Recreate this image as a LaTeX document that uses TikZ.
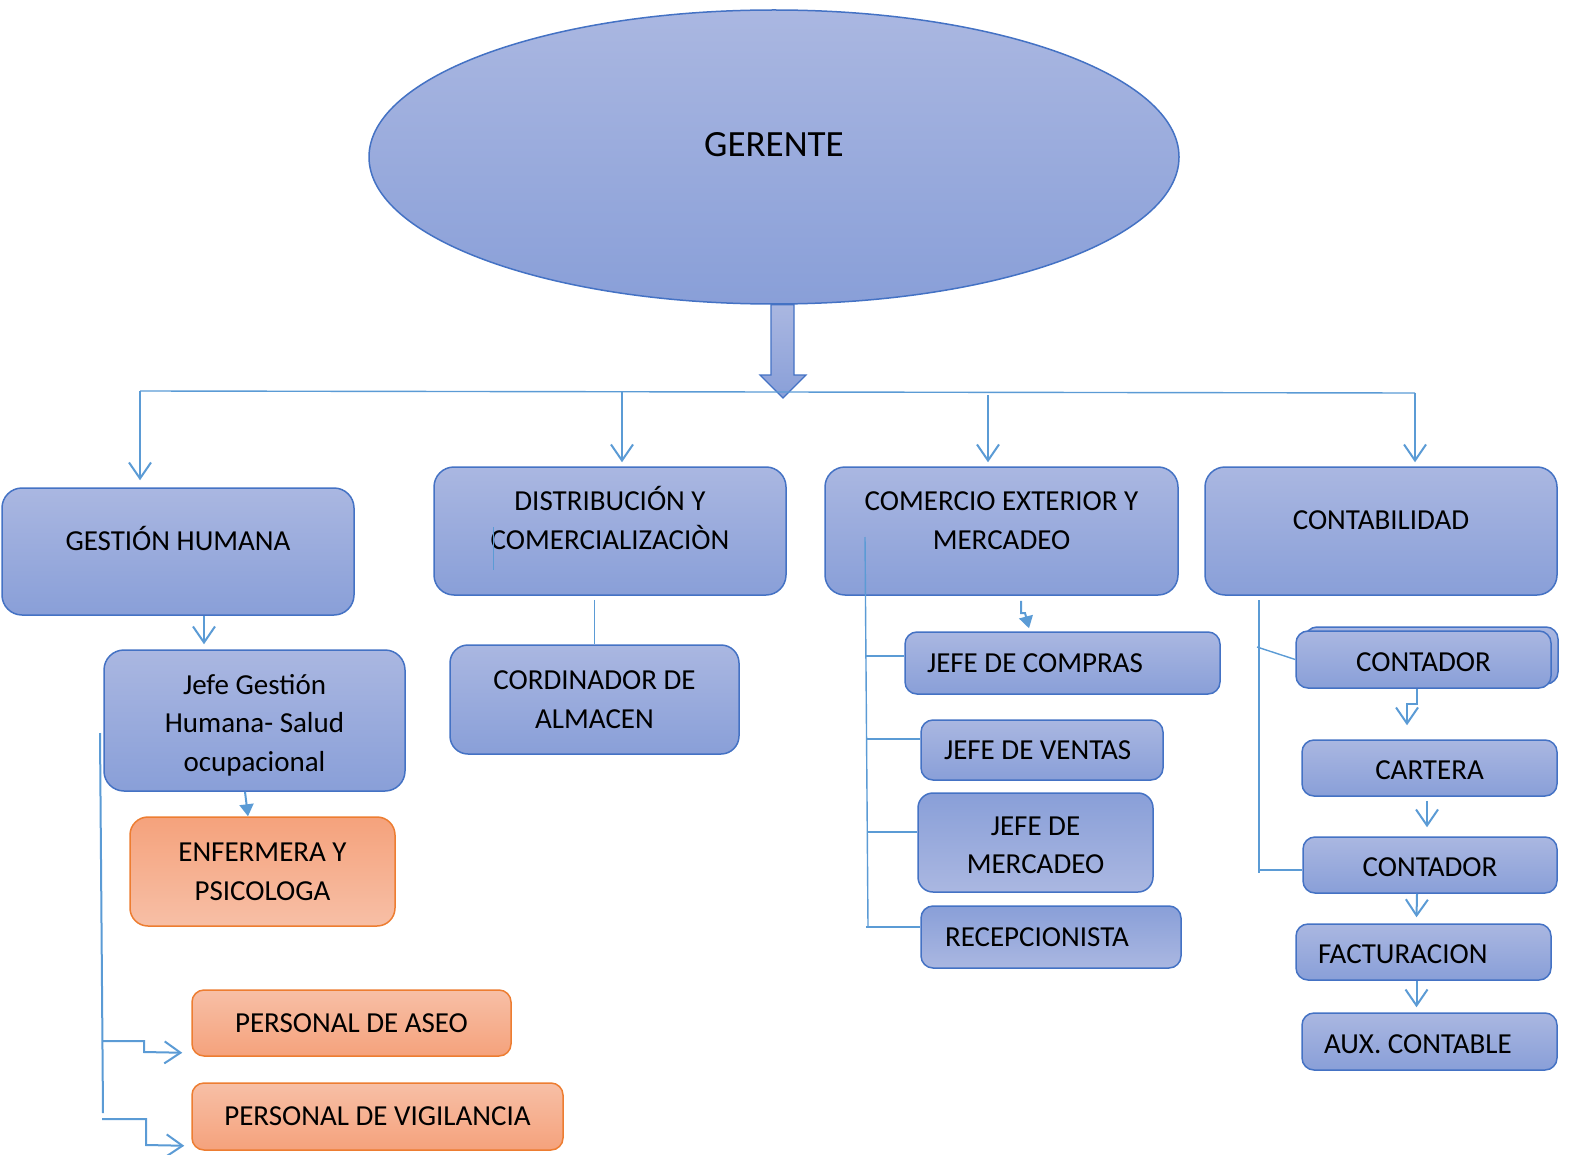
\documentclass[tikz,border=0pt]{standalone}
\usepackage{fontspec}
\setmainfont{Carlito}
\usetikzlibrary{arrows.meta,shapes.geometric}

\definecolor{boxtop}{RGB}{170,183,225}
\definecolor{boxbot}{RGB}{137,159,216}
\definecolor{boxline}{RGB}{68,114,196}
\definecolor{orgdark}{RGB}{245,162,124}
\definecolor{orglight}{RGB}{247,191,166}
\definecolor{orgline}{RGB}{237,125,49}
\definecolor{linkc}{RGB}{91,155,213}

\newcommand\lbox[2]{\makebox[#1][l]{#2}}

\tikzset{
  unit/.style={draw=boxline, line width=1.5pt, rounded corners=#1, top color=boxtop, bottom color=boxbot,
    align=center, inner sep=0pt, font=\fontsize{29}{38.7}\selectfont},
  unit/.default=12pt,
  unitflip/.style={unit=#1, top color=boxbot, bottom color=boxtop},
  unitflip/.default=12pt,
  staff/.style={unit=#1, draw=orgline, top color=orglight, bottom color=orgdark},
  staff/.default=12pt,
  lifted/.style={text height=#1, text depth=22.6pt},
  low/.style={text height=#1, text depth=0.6pt},
  low/.default=24pt,
  link/.style={draw=linkc, line width=2pt},
  twig/.style={draw=linkc, line width=1.4pt},
  solid tip/.style={-{Triangle[length=12pt,width=14pt]}}
}

\begin{document}
\begin{tikzpicture}[x=1pt,y=-1pt, >={Straight Barb[length=16pt,width=22pt]}]
\useasboundingbox (0,0) rectangle (1570,1155);

\node[ellipse, draw=boxline, line width=1.5pt, top color=boxtop, bottom color=boxbot, minimum width=810pt, minimum height=294pt,
  text height=24pt, text depth=24pt, font=\fontsize{37}{40}\selectfont] (ger) at (774,157) {GERENTE};

\node[unit=20pt, lifted=20pt, minimum width=352pt, minimum height=127pt] (gh) at (178,551.5) {GESTIÓN HUMANA};
\node[unit=20pt, lifted=58.7pt, minimum width=352pt, minimum height=128pt] (dc) at (610,531) {DISTRIBUCIÓN Y\\COMERCIALIZACIÒN};
\node[unit=20pt, lifted=58.7pt, minimum width=353pt, minimum height=128pt] (ce) at (1001.5,531) {COMERCIO EXTERIOR Y\\MERCADEO};
\node[unit=20pt, lifted=20pt, minimum width=352pt, minimum height=128pt] (cont) at (1381,531) {CONTABILIDAD};

\node[unit=20pt, text height=108pt, text depth=5.8pt, minimum width=301pt, minimum height=141pt] (jf) at (254.5,720.5) {Jefe Gestión\\Humana- Salud\\ocupacional};
\node[staff=18pt, top color=orgdark, bottom color=orglight, minimum width=265pt, minimum height=109pt] (enf) at (262.5,871.5) {ENFERMERA Y\\PSICOLOGA};
\node[staff, minimum width=319pt, minimum height=66pt] (pa) at (351.5,1023) {PERSONAL DE ASEO};
\node[staff, minimum width=371pt, minimum height=67pt] (pv) at (377.5,1116.5) {PERSONAL DE VIGILANCIA};

\node[unit=18pt, minimum width=289pt, minimum height=109pt] (ca) at (594.5,699.5) {CORDINADOR DE\\ALMACEN};

\node[unit, inner xsep=22pt, minimum height=62pt] (jc) at (1062.5,663) {\lbox{271pt}{JEFE DE COMPRAS}};
\node[unit, inner xsep=23pt, minimum height=60pt] (jv) at (1042,750) {\lbox{196pt}{JEFE DE VENTAS}};
\node[unitflip=15pt, low=63pt, minimum width=235pt, minimum height=99pt] (jm) at (1035.5,842.5) {JEFE DE\\MERCADEO};
\node[unitflip, inner xsep=24pt, minimum height=62pt] (re) at (1051,937) {\lbox{212pt}{RECEPCIONISTA}};

\node[unit, minimum width=253pt, minimum height=57pt] (c1back) at (1431.5,655.5) {};
\node[unit, low, minimum width=255pt, minimum height=57pt] (c1) at (1423.5,659.5) {CONTADOR};
\node[unit, low, minimum width=255pt, minimum height=56pt] (cart) at (1429.5,768) {CARTERA};
\node[unit, low, minimum width=254pt, minimum height=56pt] (c2) at (1430,865) {CONTADOR};
\node[unit, low, inner xsep=22pt, minimum height=56pt] (fact) at (1423.5,952) {\lbox{211pt}{FACTURACION}};
\node[unit, low, inner xsep=22pt, minimum height=57pt] (aux) at (1429.5,1041.5) {\lbox{211pt}{AUX. CONTABLE}};

% big arrow from the manager down to the bus
\draw[boxline, line width=1.2pt, top color=boxtop, bottom color=boxbot]
  ([xshift=-3pt]ger.south) -- (771,375) -- (760,375) -- (783,398) -- (806,375) -- (794,375) -- ([xshift=20pt]ger.south) -- cycle;

\coordinate (d1) at (140,391);
\coordinate (d2) at (622,391);
\coordinate (d3) at (988,395);
\coordinate (d4) at (1415,393);
\draw[twig] (d1) -- (d4);
\draw[link,->,shorten >=7pt] (d1) -- (d1 |- gh.north);
\draw[link,->,shorten >=4pt] (d2) -- (d2 |- dc.north);
\draw[link,->,shorten >=4pt] (d3) -- (d3 |- ce.north);
\draw[link,->,shorten >=4pt] (d4) -- (d4 |- cont.north);

% gestion humana
\draw[link,->] ([xshift=26pt]gh.south) -- ([xshift=-50.5pt,yshift=5pt]jf.north);
\draw[link,solid tip] ([xshift=-9.5pt]jf.south) -- ([xshift=-14.5pt]enf.north);
\coordinate (railtop) at (100,733);
\coordinate (railbot) at (103,1113);
\draw[link] (railtop) -- (railbot);
\draw[link,->] (102,1041) -- (144,1041) -- (144,1052) -- ([xshift=-9pt,yshift=4pt]pa.south west);
\draw[link,->] (102,1119) -- (146,1119) -- (146,1145) -- ([xshift=-7pt,yshift=5pt]pv.south west);

% distribucion
\draw[twig] ([yshift=-4pt]dc.south -| ca.north) -- (ca.north);
\draw[twig, line width=1pt] (493,527) -- (493,570);

% comercio exterior
\draw[twig] (865,537) -- (868,927);
\draw[twig] (866,656) -- (jc.west |- 0,656);
\draw[twig] (867,739) -- (jv.west |- 0,739);
\draw[twig] (867,832) -- (jm.west |- 0,832);
\draw[twig] (866,927) -- (re.west |- 0,927);
\draw[link,solid tip] ([xshift=19.5pt,yshift=-5pt]ce.south) -- (1021,613) -- (1025,613) -- ([xshift=-33.5pt,yshift=3pt]jc.north);

% contabilidad
\draw[twig] (1259,600) -- (1259,873);
\draw[twig] (1257,647) -- (c1.west);
\draw[twig] (1259,870) -- (c2.west |- 0,870);
\draw[link,->] ([xshift=-6.5pt]c1.south) -- (1417,704) -- (1407,704) -- ([xshift=-22.5pt,yshift=14pt]cart.north);
\draw[link,->] ([xshift=-2.5pt,yshift=-4pt]cart.south) -- ([xshift=-3pt,yshift=9pt]c2.north);
\draw[link,->] ([xshift=-13pt]c2.south) -- ([xshift=-7pt,yshift=6pt]fact.north);
\draw[link,->] ([xshift=-7pt]fact.south) -- ([xshift=-13pt,yshift=5pt]aux.north);
\end{tikzpicture}
\end{document}
